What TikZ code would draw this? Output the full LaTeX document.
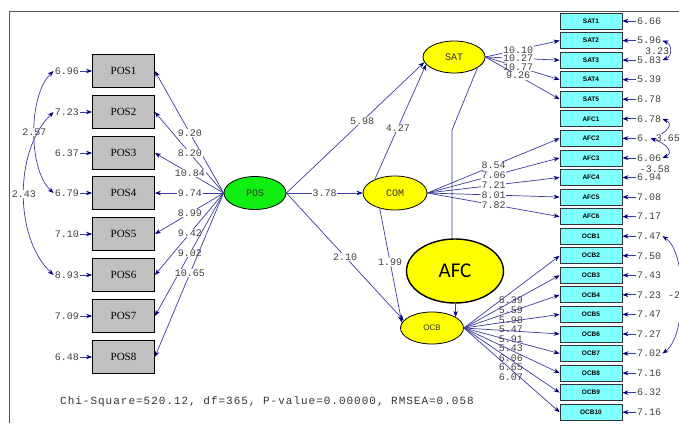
\documentclass[tikz,border=0pt]{standalone}
\usepackage{fontspec}
\setmainfont{Liberation Serif}
\newfontfamily\monof{Liberation Mono}
\newfontfamily\sansf{Liberation Sans}
\newfontfamily\afcf{Carlito}
\usetikzlibrary{shapes.geometric,arrows.meta}
\definecolor{lnc}{HTML}{3C3C9E}
\definecolor{tipc}{HTML}{000080}
\definecolor{lblc}{HTML}{404040}
\definecolor{cyanbox}{HTML}{80FFFF}
\definecolor{graybox}{HTML}{C0C0C0}
\definecolor{greenlv}{HTML}{11EE11}
\definecolor{yellowlv}{HTML}{FFFF00}
\definecolor{framec}{HTML}{555555}
\begin{document}
\begin{tikzpicture}[x=1pt,y=-1pt,
  arr/.style={draw=lnc, line width=0.7pt, arrows={-{Stealth[length=6pt,width=4.5pt,color=tipc]}}},
  cov/.style={draw=lnc, line width=0.7pt, arrows={{Stealth[length=6pt,width=4.5pt,color=tipc]}-{Stealth[length=6pt,width=4.5pt,color=tipc]}}},
  plain/.style={draw=lnc, line width=0.7pt},
  lab/.style={font=\monof\fontsize{10}{10}\selectfont, text=lblc, fill=white, inner sep=0.6pt},
  val/.style={font=\monof\fontsize{10}{10}\selectfont, text=lblc, inner sep=1pt},
  posbox/.style={draw=black, line width=0.8pt, fill=graybox, minimum width=62pt, minimum height=33pt, inner sep=0pt, font=\fontsize{11}{11}\selectfont},
  cbox/.style={draw=black!80, line width=0.8pt, fill=cyanbox, minimum width=62pt, minimum height=16pt, inner sep=0pt, font=\sansf\bfseries\fontsize{6.5}{6.5}\selectfont},
  lv/.style={ellipse, draw=black, line width=0.8pt, inner sep=0pt, minimum width=62pt, minimum height=33pt, font=\monof\fontsize{10}{10}\selectfont, text=black!80}
]
\useasboundingbox (0,0) rectangle (679,423);

% frame
\draw[framec, line width=1.2pt] (679,11.5) -- (9.5,11.5) -- (9.5,423);

% latent variables
\node[lv, fill=greenlv] (POS) at (255,193) {POS};
\node[lv, fill=yellowlv, minimum width=64pt, minimum height=34pt] (COM) at (395,193) {COM};
\node[lv, fill=yellowlv, minimum height=32pt] (SAT) at (454,57) {SAT};
\node[lv, fill=yellowlv, minimum width=63pt, minimum height=32pt, font=\sansf\fontsize{8}{8}\selectfont] (OCB) at (432,328) {OCB};
\node[lv, fill=yellowlv, minimum width=97pt, minimum height=64pt, line width=1.4pt, font=\afcf\fontsize{21}{21}\selectfont, text=black] (AFC) at (455,271) {AFC};

% POS indicators
\foreach \i/\y/\e in {1/71/6.96, 2/112/7.23, 3/153/6.37, 4/193/6.79, 5/234/7.10, 6/275/8.93, 7/316/7.09, 8/357/6.48}{
  \node[posbox] (P\i) at (123.5,\y) {POS\i};
  \node[val, anchor=east] (pe\i) at (80,\y) {\e};
  \draw[arr] (pe\i) -- (P\i);
}
\foreach \i/\l in {1/9.20, 2/8.20, 3/10.84, 4/9.74, 5/8.99, 6/9.42, 7/9.02, 8/10.65}{
  \draw[arr] (POS.west) -- node[lab, pos=0.49]{\l} (P\i.east);
}

% left covariances
\draw[cov] (pe1.west) .. controls (28,95) and (28,170) .. node[lab, pos=0.5]{2.57} (pe4.west);
\draw[cov] (pe2.west) .. controls (14,150) and (14,238) .. node[lab, pos=0.5]{2.43} (pe6.west);

% right indicators
\foreach \n/\t/\k/\e in {S1/SAT1/0/6.66, S2/SAT2/1/5.96, S3/SAT3/2/5.83, S4/SAT4/3/5.39, S5/SAT5/4/6.78, A1/AFC1/5/6.78, A2/AFC2/6/6., A3/AFC3/7/6.06, A4/AFC4/8/6.94, A5/AFC5/9/7.08, A6/AFC6/10/7.17, O1/OCB1/11/7.47, O2/OCB2/12/7.50, O3/OCB3/13/7.43, O4/OCB4/14/7.23, O5/OCB5/15/7.47, O6/OCB6/16/7.27, O7/OCB7/17/7.02, O8/OCB8/18/7.16, O9/OCB9/19/6.32, O10/OCB10/20/7.16}{
  \node[cbox] (\n) at (591,{21+19.56*\k}) {\t};
  \node[val, anchor=west] (e\n) at (636,{21+19.56*\k}) {\e};
  \draw[arr] (e\n) -- (\n);
}

% structural paths
\draw[arr] (POS.east) -- node[lab, pos=0.55]{5.98} (SAT.190);
\draw[arr] (COM.146) -- node[lab, pos=0.45]{4.27} (SAT.195);
\draw[arr] (POS.east) -- node[lab, pos=0.5]{3.78} (COM.west);
\draw[arr] (POS.east) -- node[lab, pos=0.5]{2.10} (OCB.165);
\draw[arr] (COM.225) -- node[lab, pos=0.47]{1.99} (OCB.170);

% SAT - AFC link and AFC -> OCB
\coordinate (bend) at (452,130);
\draw[plain] (SAT.335) -- (bend) -- (bend |- AFC.north);
\draw[arr] (OCB.25 |- AFC.south) -- (OCB.25);

% loadings on right
\foreach \n/\l in {S2/10.10, S3/10.27, S4/10.77, S5/9.26}{
  \draw[arr] (SAT.east) -- node[lab, pos=0.44]{\l} (\n.west);
}
\foreach \n/\l in {A2/8.54, A3/7.06, A4/7.21, A5/8.01, A6/7.82}{
  \draw[arr] (COM.east) -- node[lab, pos=0.5]{\l} (\n.west);
}
\foreach \n/\l in {O2/5.39, O3/5.59, O4/5.98, O5/5.47, O6/5.91, O7/5.43, O8/6.06, O9/6.65, O10/6.07}{
  \draw[arr] (OCB.east) -- node[lab, pos=0.49, yshift=-8pt, fill=none]{\l} (\n.west);
}

% right covariances
\draw[cov] (eS2.east) .. controls +(10,4) and +(10,-4) .. (eS3.east);
\node[val] (c323) at (657,51) {3.23};
\draw[cov] (eA1.east) .. controls +(12,5) and +(16,-5) .. (eA2.east);
\node[lab, anchor=west] (c365) at (649,138) {-3.65};
\draw[cov] (eA2.east) .. controls +(16,5) and +(12,-5) .. (eA3.east);
\node[lab, anchor=west] (c358) at (639,169) {-3.58};
\draw[cov] (eO1.east) .. controls (687,252) and (687,336) .. (eO7.east);
\node[val, anchor=west] (c2) at (667,295) {-2};

% fit statistics
\node[anchor=west, font=\monof\fontsize{11}{11}\selectfont\addfontfeature{LetterSpace=9}, text=black!80, inner sep=0pt] (chi) at (60,402) {Chi-Square=520.12, df=365, P-value=0.00000, RMSEA=0.058};
\end{tikzpicture}
\end{document}
